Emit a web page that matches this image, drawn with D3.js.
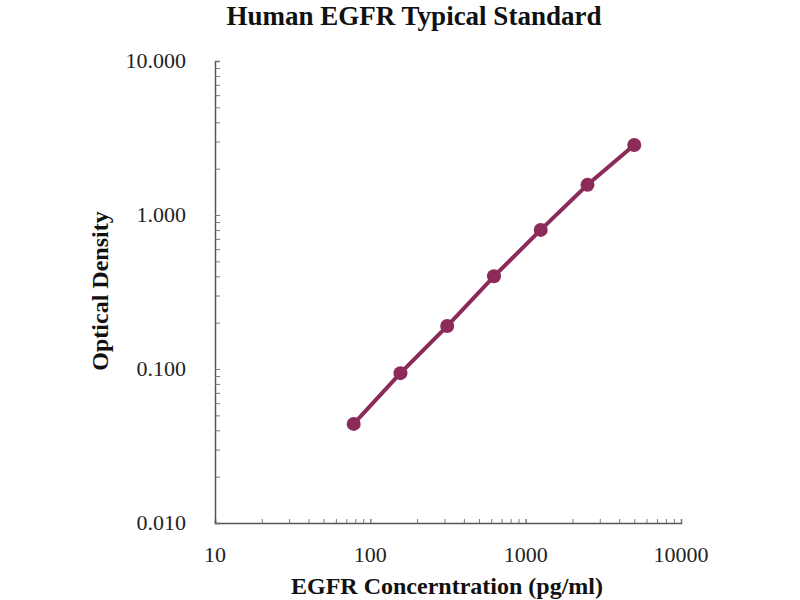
<!doctype html>
<html>
<head>
<style>
    body { margin: 0; background: white; }
    text { font-family: "Liberation Serif", "Times New Roman", serif; }
</style>
<script src="https://d3js.org/d3.v7.min.js"></script>
</head>
<body>
<script>
    // standard curve values
    var concentration = [78.125, 156.25, 312.5, 625, 1250, 2500, 5000];
    var density = [0.044, 0.094, 0.19, 0.40, 0.80, 1.57, 2.85];
    var xTicks = [10, 100, 1000, 10000];
    var yTicks = [0.01, 0.1, 1, 10];

    var width = 800, height = 600;
    var color = "#8c2a5a";

    var svg = d3.select("body").append("svg")
        .attr("width", width)
        .attr("height", height);

    var x = d3.scaleLog().domain([10, 10000]).range([215, 681]);
    var y = d3.scaleLog().domain([0.01, 10]).range([523, 61]);

    // title
    svg.append("text")
        .attr("x", 414)
        .attr("y", 25)
        .attr("text-anchor", "middle")
        .attr("font-size", "27px")
        .attr("font-weight", "bold")
        .attr("fill", "#111")
        .text("Human EGFR Typical Standard");

    // minor + major ticks, drawn inward
    var xMinor = [];
    var yMinor = [];
    for (var d = 10; d < 10000; d *= 10) {
        for (var k = 1; k <= 10; k++) xMinor.push(d * k);
    }
    for (var e = 0.01; e < 10; e *= 10) {
        for (var j = 1; j <= 10; j++) yMinor.push(e * j);
    }

    var xAxis = svg.append("g")
        .attr("transform", "translate(0,523)")
        .call(d3.axisTop(x).tickValues(xMinor).tickSize(4).tickFormat(""));
    xAxis.select(".domain").attr("stroke", "#555").attr("stroke-width", 1.5);
    xAxis.selectAll(".tick line").attr("stroke", "#777");

    var yAxis = svg.append("g")
        .attr("transform", "translate(215,0)")
        .call(d3.axisRight(y).tickValues(yMinor).tickSize(5).tickFormat(""));
    yAxis.select(".domain").attr("stroke", "#555").attr("stroke-width", 1.5);
    yAxis.selectAll(".tick line").attr("stroke", "#777");

    // tick labels
    svg.selectAll(".xlab")
        .data(xTicks)
        .enter()
        .append("text")
            .attr("class", "xlab")
            .attr("x", function(d) { return x(d); })
            .attr("y", 562)
            .attr("text-anchor", "middle")
            .attr("font-size", "22px")
            .attr("fill", "#222")
            .text(function(d) { return d; });

    svg.selectAll(".ylab")
        .data(yTicks)
        .enter()
        .append("text")
            .attr("class", "ylab")
            .attr("x", 186)
            .attr("y", function(d) { return y(d) + 7; })
            .attr("text-anchor", "end")
            .attr("font-size", "22px")
            .attr("fill", "#222")
            .text(function(d) { return d3.format(".3f")(d); });

    // axis titles
    svg.append("text")
        .attr("x", 447)
        .attr("y", 594)
        .attr("text-anchor", "middle")
        .attr("font-size", "24px")
        .attr("font-weight", "bold")
        .attr("fill", "#111")
        .text("EGFR Concerntration (pg/ml)");

    svg.append("text")
        .attr("transform", "translate(108,291) rotate(-90)")
        .attr("text-anchor", "middle")
        .attr("font-size", "24px")
        .attr("font-weight", "bold")
        .attr("fill", "#111")
        .text("Optical Density");

    // curve
    var pts = concentration.map(function(c, i) { return [c, density[i]]; });

    svg.append("path")
        .datum(pts)
        .attr("fill", "none")
        .attr("stroke", color)
        .attr("stroke-width", 4)
        .attr("d", d3.line()
            .x(function(d) { return x(d[0]); })
            .y(function(d) { return y(d[1]); }));

    svg.selectAll(".dot")
        .data(pts)
        .enter()
        .append("circle")
            .attr("class", "dot")
            .attr("cx", function(d) { return x(d[0]); })
            .attr("cy", function(d) { return y(d[1]); })
            .attr("r", 7)
            .attr("fill", color);
</script>
</body>
</html>
